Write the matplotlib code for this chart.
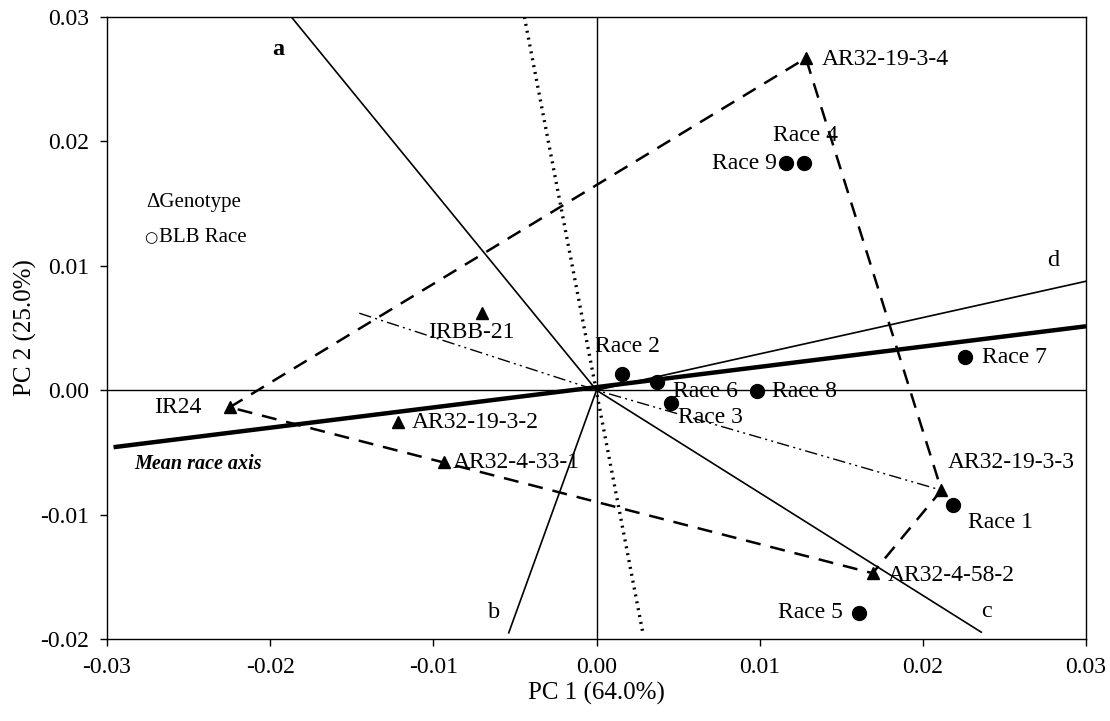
import matplotlib
matplotlib.use("Agg")
import matplotlib.pyplot as plt

plt.rcParams['font.family'] = ['Liberation Serif', 'DejaVu Serif']

# Genotypes (triangles)
geno_names = ["AR32-19-3-4", "IRBB-21", "IR24", "AR32-19-3-2", "AR32-4-33-1",
              "AR32-19-3-3", "AR32-4-58-2"]
geno_x = [0.01283, -0.00703, -0.02248, -0.01216, -0.00935, 0.02114, 0.01692]
geno_y = [0.02669, 0.00619, -0.00137, -0.00257, -0.00579, -0.00804, -0.01471]

# Races (circles)
race_names = ["Race 1", "Race 2", "Race 3", "Race 4", "Race 5", "Race 6",
              "Race 7", "Race 8", "Race 9"]
race_x = [0.02187, 0.00159, 0.00458, 0.01271, 0.01607, 0.00373, 0.02261, 0.00984, 0.01161]
race_y = [-0.00924, 0.00129, -0.00105, 0.01825, -0.01793, 0.00064, 0.00265, -0.00008, 0.01825]

# Polygon (convex hull) vertices order
hull_order = ["IR24", "AR32-19-3-4", "AR32-19-3-3", "AR32-4-58-2", "IR24"]

# Sector rays from origin (end points)
ray_labels = ["a", "b", "c", "d"]
ray_end_x = [-0.0187, -0.00538, 0.02358, 0.0300]
ray_end_y = [0.0300, -0.0195, -0.01945, 0.00876]
ray_lab_x = [-0.0195, -0.0063, 0.0239, 0.0280]
ray_lab_y = [0.0274, -0.0179, -0.0178, 0.0104]

# Mean race axis (end points) and its perpendicular (dotted)
mean_axis_x = [-0.0296, 0.0300]
mean_axis_y = [-0.00458, 0.00514]
perp_x = [-0.00442, 0.00282]
perp_y = [0.0300, -0.01937]

# Dash-dot-dot line
dd_x = [-0.01454, 0.0, 0.02114]
dd_y = [0.00619, 0.0, -0.00804]

# Label positions (data units) for genotype & race names
geno_lab = {"AR32-19-3-4": (0.0138, 0.0266, 'left'),
            "IRBB-21": (-0.0103, 0.0046, 'left'),
            "IR24": (-0.0242, -0.0014, 'right'),
            "AR32-19-3-2": (-0.0113, -0.00257, 'left'),
            "AR32-4-33-1": (-0.0088, -0.0058, 'left'),
            "AR32-19-3-3": (0.02153, -0.0058, 'left'),
            "AR32-4-58-2": (0.01785, -0.0149, 'left')}
race_lab = {"Race 1": (0.02276, -0.0106, 'left'),
            "Race 2": (-0.0001, 0.0035, 'left'),
            "Race 3": (0.00497, -0.0022, 'left'),
            "Race 4": (0.0108, 0.0205, 'left'),
            "Race 5": (0.0151, -0.0179, 'right'),
            "Race 6": (0.00466, -0.0001, 'left'),
            "Race 7": (0.02362, 0.00265, 'left'),
            "Race 8": (0.01074, -0.0001, 'left'),
            "Race 9": (0.0071, 0.01825, 'left')}

fig = plt.figure(figsize=(11.10, 7.21), dpi=100)
ax = fig.add_axes([0.0964, 0.1137, 0.882, 0.8627])

ax.set_xlim(-0.03, 0.03)
ax.set_ylim(-0.02, 0.03)

ax.axhline(0, color='black', lw=1.0, zorder=1)
ax.axvline(0, color='black', lw=1.0, zorder=1)

# rays
for lab, ex, ey, lx, ly in zip(ray_labels, ray_end_x, ray_end_y, ray_lab_x, ray_lab_y):
    ax.plot([0, ex], [0, ey], color='black', lw=1.2, zorder=2)
    ax.text(lx, ly, lab, fontsize=17.5, ha='center', va='center',
            fontweight='bold' if lab == 'a' else 'normal')

# mean race axis
ax.plot(mean_axis_x, mean_axis_y, color='black', lw=3.2, solid_capstyle='butt', zorder=2)
ax.plot(perp_x, perp_y, color='black', lw=2.4, linestyle=(0, (0.6, 1.5)), zorder=2)

# dash-dot-dot
l, = ax.plot(dd_x, dd_y, color='black', lw=1.0, zorder=2)
l.set_dashes([9, 3, 1.5, 3, 1.5, 3])

# polygon
gx = dict(zip(geno_names, geno_x))
gy = dict(zip(geno_names, geno_y))
ax.plot([gx[n] for n in hull_order], [gy[n] for n in hull_order], color='black',
        lw=1.8, dashes=(6, 4), zorder=2)

ax.plot(geno_x, geno_y, linestyle='none', marker='^', color='black', markersize=9, zorder=3)
ax.plot(race_x, race_y, linestyle='none', marker='o', color='black', markersize=10, zorder=3)

for n in geno_names:
    x, y, ha = geno_lab[n]
    ax.text(x, y, n, fontsize=17, ha=ha, va='center', zorder=4)
for n in race_names:
    x, y, ha = race_lab[n]
    ax.text(x, y, n, fontsize=17, ha=ha, va='center', zorder=4)

ax.text(-0.02834, -0.0059, "Mean race axis", fontsize=14.5, fontweight='bold',
        fontstyle='italic', ha='left', va='center')

ax.text(-0.0276, 0.01511, "\u0394Genotype", fontsize=15, ha='left', va='center')
ax.text(-0.0277, 0.0123, "\u25cb", fontsize=11, ha='left', va='center',
        family=['DejaVu Sans'])
ax.text(-0.0268, 0.0123, "BLB Race", fontsize=15, ha='left', va='center')

ax.set_xticks([-0.03, -0.02, -0.01, 0.0, 0.01, 0.02, 0.03])
ax.set_xticklabels(["-0.03", "-0.02", "-0.01", "0.00", "0.01", "0.02", "0.03"])
ax.set_yticks([-0.02, -0.01, 0.0, 0.01, 0.02, 0.03])
ax.set_yticklabels(["-0.02", "-0.01", "0.00", "0.01", "0.02", "0.03"])
ax.tick_params(labelsize=17, direction='out', length=5, width=1, pad=8)

ax.set_xlabel("PC 1 (64.0%)", fontsize=18, labelpad=3)
ax.set_ylabel("PC 2 (25.0%)", fontsize=18, labelpad=2)

for s in ax.spines.values():
    s.set_linewidth(1.0)

fig.savefig("out.png", dpi=100)
